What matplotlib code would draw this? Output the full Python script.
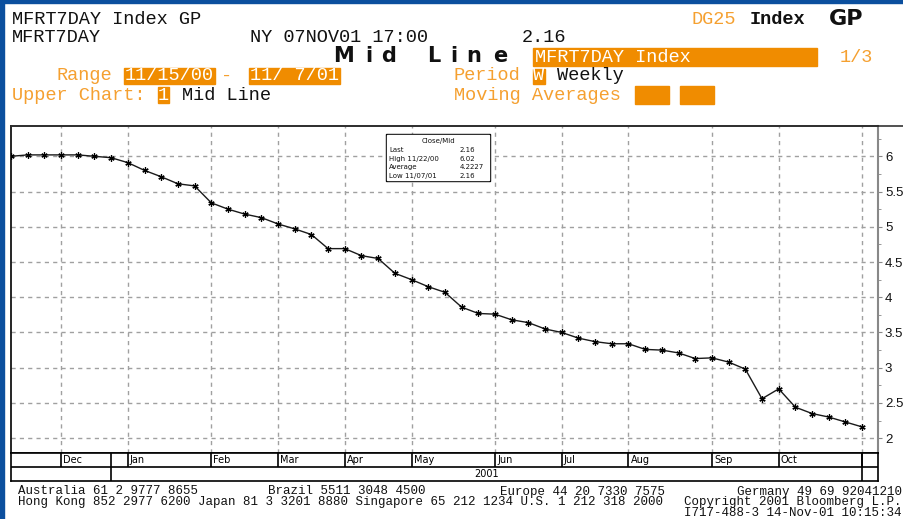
import matplotlib
matplotlib.use("Agg")
import matplotlib.pyplot as plt
import pandas as pd
from matplotlib.patches import Rectangle
from matplotlib.lines import Line2D

# weekly mid line, MFRT7DAY Index, 11/15/00 - 11/7/01
dates = pd.date_range("2000-11-15", periods=52, freq="7D")
mid = [6.00, 6.02, 6.02, 6.02, 6.02, 6.00, 5.98, 5.91, 5.80, 5.71,
       5.61, 5.58, 5.34, 5.25, 5.18, 5.13, 5.04, 4.97, 4.89, 4.69,
       4.69, 4.59, 4.55, 4.34, 4.25, 4.15, 4.07, 3.86, 3.77, 3.76,
       3.68, 3.64, 3.55, 3.50, 3.42, 3.37, 3.34, 3.34, 3.26, 3.25,
       3.21, 3.13, 3.14, 3.08, 2.98, 2.56, 2.70, 2.44, 2.35, 2.30,
       2.23, 2.16]
month_labels = ["Dec", "Jan", "Feb", "Mar", "Apr", "May", "Jun",
                "Jul", "Aug", "Sep", "Oct"]
year_label = "2001"
yticks = [2, 2.5, 3, 3.5, 4, 4.5, 5, 5.5, 6]
ytick_labels = ["2", "2.5", "3", "3.5", "4", "4.5", "5", "5.5", "6"]
legend_rows = [("Last", "2.16"), ("High 11/22/00", "6.02"),
               ("Average", "4.2227"), ("Low 11/07/01", "2.16")]

W, H = 904, 519
ORANGE = "#f08c00"
ORANGE_TXT = "#f5a030"
MONO = "Liberation Mono"


def fx(x):
    return x / W


def fy(y):
    return 1 - y / H


fig = plt.figure(figsize=(W / 100, H / 100), dpi=100)
fig.patch.set_facecolor("white")


def t(x, y, s, **kw):
    kw.setdefault("family", MONO)
    kw.setdefault("size", 13.4)
    kw.setdefault("color", "#111111")
    fig.text(fx(x), fy(y), s, va="center", ha=kw.pop("ha", "left"), **kw)


def box(x0, y0, x1, y1, color=ORANGE):
    fig.patches.append(Rectangle((fx(x0), fy(y1)), fx(x1) - fx(x0), fy(y0) - fy(y1),
                                 transform=fig.transFigure, color=color, zorder=1))


# blue frame
box(0, 0, 4, H, color="#0b4f9e")
box(0, 0, W, 3, color="#0b4f9e")

# ---- header ----
t(12, 19, "MFRT7DAY Index GP")
t(692, 19, "DG25", color=ORANGE_TXT)
t(750, 19, "Index", weight="bold")
t(829, 19, "GP", family="DejaVu Sans", weight="heavy", size=16)

t(12, 38, "MFRT7DAY")
t(250, 38, "NY 07NOV01 17:00")
t(522, 38, "2.16")

for ch, cx in zip("MidLine", [344, 369, 389, 434, 454, 474, 500]):
    t(cx, 56, ch, family="DejaVu Sans", weight="heavy", size=15, ha="center")
box(533, 48, 817, 66)
t(535, 57, "MFRT7DAY Index", color="white")
t(840, 57, "1/3", color=ORANGE_TXT)

t(57, 76, "Range", color=ORANGE_TXT)
box(124, 68, 215, 84)
t(125, 76, "11/15/00", color="white")
t(221, 76, "-", color=ORANGE_TXT)
box(249, 68, 340, 84)
t(250, 76, "11/ 7/01", color="white")
t(454, 76, "Period", color=ORANGE_TXT)
box(533, 69, 545, 84)
t(533, 76, "W", color="white")
t(557, 76, "Weekly")

t(12, 95, "Upper Chart:", color=ORANGE_TXT)
box(158, 87, 169, 103)
t(158, 95, "1", color="white")
t(182, 95, "Mid Line")
t(454, 95, "Moving Averages", color=ORANGE_TXT)
box(635, 86, 669, 104)
box(680, 86, 714, 104)

# ---- main chart ----
x = list(range(len(mid)))
xmax = 51.95
ax = fig.add_axes([fx(11), fy(453), (878 - 11) / W, (453 - 126) / H])
ax.plot(x, mid, color="#1a1a1a", lw=1.0, marker=(6, 2, 0), ms=4.5, mew=0.9,
        mec="black", zorder=3)
ax.set_xlim(0, xmax)
ax.set_ylim(1.79, 6.43)

month_idx = [i for i in range(1, len(dates)) if dates[i].month != dates[i - 1].month]
year_sep = max(i for i in range(len(dates)) if dates[i].year == 2000)

ax.set_xticks(month_idx)
ax.set_xticklabels([])
ax.tick_params(axis="x", length=0)
ax.yaxis.tick_right()
ax.set_yticks(yticks)
ax.set_yticklabels(ytick_labels, family="Liberation Sans", fontsize=9.5)
ax.set_yticks([v + 0.25 for v in yticks[:-1]] + [6.25], minor=True)
ax.tick_params(axis="y", which="major", direction="out", length=3, pad=2,
               color="#888888", labelcolor="#111111")
ax.tick_params(axis="y", which="minor", direction="out", length=2, color="#888888")
ax.grid(True, ls=(0, (3, 3)), color="#a0a0a0", lw=1)
for s in ["left", "top", "bottom"]:
    ax.spines[s].set_color("black")
    ax.spines[s].set_linewidth(1.2)
ax.spines["right"].set_color("#888888")
ax.spines["right"].set_linewidth(1.5)

# top frame line runs over the label column
fig.lines.append(Line2D([fx(11), fx(W)], [fy(126), fy(126)], transform=fig.transFigure,
                        color="#333333", lw=1.2))

# legend box
box(386, 134, 490, 181, color="black")
box(387, 135, 489, 180, color="white")
t(438, 141, "Close/Mid", family="DejaVu Sans", size=5, ha="center")
for k, (lab, val) in enumerate(legend_rows):
    yy = 150 + k * 8.7
    t(389, yy, lab, family="DejaVu Sans", size=5)
    t(460, yy, val, family="DejaVu Sans", size=5)

# ---- month / year table ----
tab = fig.add_axes([fx(11), fy(481), (878 - 11) / W, (481 - 453) / H])
tab.set_xlim(0, xmax)
tab.set_ylim(0, 1)
tab.set_xticks([])
tab.set_yticks([])
for s in tab.spines.values():
    s.set_color("black")
    s.set_linewidth(1.2)
tab.axhline(0.5, color="black", lw=1.2)
tab.vlines(month_idx, 0.5, 1, color="black", lw=1.2)
tab.vlines([year_sep, len(dates) - 1], 0, 1, color="black", lw=1.2)
for i, lab in zip(month_idx, month_labels):
    tab.text(i + 0.12, 0.74, lab, va="center", ha="left", fontsize=7,
             family="DejaVu Sans")
tab.text((year_sep + len(dates) - 1) / 2, 0.24, year_label, va="center",
         ha="center", fontsize=7, family="DejaVu Sans")

# ---- footer ----
fs = 9
t(18, 491.5, "Australia 61 2 9777 8655", size=fs)
t(268, 491.5, "Brazil 5511 3048 4500", size=fs)
t(500, 491.5, "Europe 44 20 7330 7575", size=fs)
t(902, 491.5, "Germany 49 69 92041210", size=fs, ha="right")
t(18, 502.5, "Hong Kong 852 2977 6200 Japan 81 3 3201 8880 Singapore 65 212 1234 U.S. 1 212 318 2000",
  size=fs)
t(902, 502.5, "Copyright 2001 Bloomberg L.P.", size=fs, ha="right")
t(902, 513.5, "I717-488-3 14-Nov-01 10:15:34", size=fs, ha="right")

fig.savefig("out.png", dpi=100)
